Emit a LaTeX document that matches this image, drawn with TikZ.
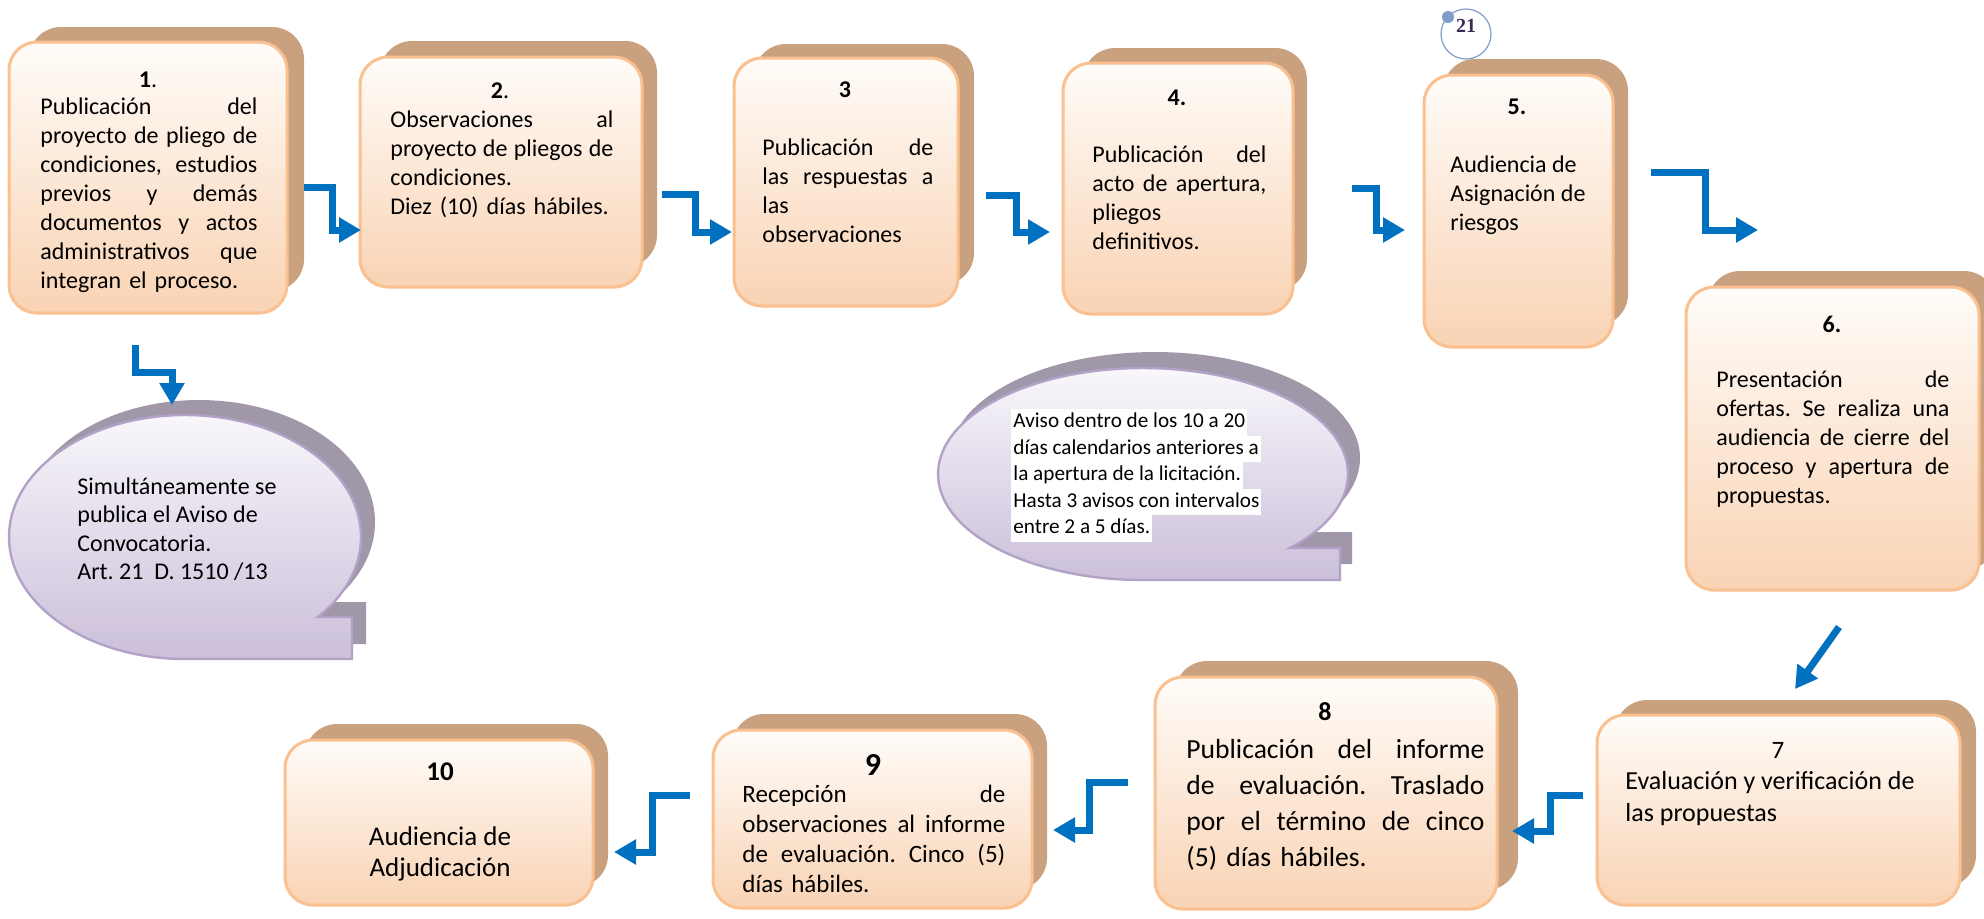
\documentclass[tikz,border=0pt]{standalone}
\usepackage{fontspec}
\setmainfont{Carlito}
\newfontfamily\pagefont{Liberation Serif}
\usetikzlibrary{arrows.meta}
\definecolor{boxtop}{HTML}{FFFCF9}
\definecolor{boxbot}{HTML}{F9D3B4}
\definecolor{boxedge}{HTML}{FAC090}
\definecolor{boxback}{HTML}{C9A17F}
\definecolor{bubtop}{HTML}{FBFAFD}
\definecolor{bubbot}{HTML}{CBBFDA}
\definecolor{bubedge}{HTML}{B3A2C7}
\definecolor{bubback}{HTML}{A097A9}
\definecolor{flowblue}{HTML}{0070C0}
\definecolor{ringblue}{HTML}{7F9CCB}
\definecolor{pagenum}{HTML}{3F2C53}
\newcommand{\jl}[2]{\leavevmode\hbox to #1{\spaceskip=0pt\xspaceskip=0pt #2}\\}
\newcommand{\hl}[1]{\colorbox{white}{\kern1pt\strut #1\kern1pt}}
\setlength{\fboxsep}{0pt}
\frenchspacing
\begin{document}
\begin{tikzpicture}[x=0.5pt, y=0.5pt]
	\tikzset{
		back box/.style={fill=boxback, rounded corners=16pt},
		front box/.style={draw=boxedge, line width=1.5pt, rounded corners=14pt, top color=boxtop, bottom color=boxbot},
		bubble back/.style={fill=bubback},
		bubble/.style={draw=bubedge, line width=1.2pt, top color=bubtop, bottom color=bubbot},
		num/.style={inner sep=0pt, font=\bfseries\fontsize{12}{14}\selectfont},
		body/.style={anchor=north west, inner sep=0pt, align=left, font=\fontsize{12}{14.5}\selectfont},
		flow/.style={draw=flowblue, line width=3.5pt, -{Triangle[length=11pt,width=12pt]}},
	}
	\path[use as bounding box, fill=white] (0,0) rectangle (1984,-918);
	% cajas
	\path[back box] (29,-27) rectangle (304,-291);
	\path[front box] (9,-42) rectangle (287,-313);
	\path[back box] (380,-41) rectangle (657,-267);
	\path[front box] (360,-57) rectangle (642,-287);
	\path[back box] (754,-44) rectangle (974,-285);
	\path[front box] (734,-58) rectangle (958,-306);
	\path[back box] (1083,-48) rectangle (1307,-291);
	\path[front box] (1063,-63) rectangle (1293,-314);
	\path[back box] (1443,-59) rectangle (1628,-326);
	\path[front box] (1424,-75) rectangle (1613,-347);
	\path[back box] (1708,-271) rectangle (1996,-570);
	\path[front box] (1686,-287) rectangle (1979,-590);
	\path[back box] (1615,-700) rectangle (1976,-887);
	\path[front box] (1597,-715) rectangle (1960,-905);
	\path[back box] (1175,-661) rectangle (1518,-890);
	\path[front box] (1155,-677) rectangle (1497,-909);
	\path[back box] (732,-714) rectangle (1047,-890);
	\path[front box] (713,-730) rectangle (1032,-908);
	\path[back box] (305,-724) rectangle (608,-887);
	\path[front box] (285,-740) rectangle (593,-905);
	% globos
	\path[bubble back, shift={(14,15)}] (317.9,-617) arc[start angle=-40.97, end angle=270, x radius=88pt, y radius=61pt] -- (352,-659) -- (352,-617) -- cycle;
	\path[bubble] (317.9,-617) arc[start angle=-40.97, end angle=270, x radius=88pt, y radius=61pt] -- (352,-659) -- (352,-617) -- cycle;
	\path[bubble back, shift={(12,16)}] (1289.8,-548) arc[start angle=-44.27, end angle=270, x radius=102.5pt, y radius=53pt] -- (1340,-580) -- (1340,-548) -- cycle;
	\path[bubble] (1289.8,-548) arc[start angle=-44.27, end angle=270, x radius=102.5pt, y radius=53pt] -- (1340,-580) -- (1340,-548) -- cycle;
	% textos
	\node[num] (n1) at (148,-80) {1\mdseries.};
	\node[body, text width=108.5pt] (t1) at (40,-97) {\jl{108.5pt}{Publicación del}\jl{108.5pt}{proyecto de pliego de}\jl{108.5pt}{condiciones, estudios}\jl{108.5pt}{previos y demás}\jl{108.5pt}{documentos y actos}\jl{108.5pt}{administrativos que}integran el proceso.};
	\node[num] (n2) at (500,-91) {2\mdseries.};
	\node[body, text width=111.5pt] (t2) at (390,-110) {\jl{111.5pt}{Observaciones al}\jl{111.5pt}{proyecto de pliegos de}condiciones.\\Diez (10) días hábiles.};
	\node[num] (n3) at (845,-90) {3};
	\node[body, text width=85.5pt] (t3) at (762,-138) {\jl{85.5pt}{Publicación de}\jl{85.5pt}{las respuestas a}las\\observaciones};
	\node[num] (n4) at (1177,-98) {4.};
	\node[body, text width=87pt] (t4) at (1092,-145) {\jl{87pt}{Publicación del}\jl{87pt}{acto de apertura,}pliegos\\definitivos.};
	\node[num] (n5) at (1517,-107) {5.};
	\node[body] (t5) at (1450,-155) {Audiencia de\\Asignación de\\riesgos};
	\node[num] (n6) at (1832,-324) {6.};
	\node[body, text width=116.5pt] (t6) at (1716,-370) {\jl{116.5pt}{Presentación de}\jl{116.5pt}{ofertas. Se realiza una}\jl{116.5pt}{audiencia de cierre del}\jl{116.5pt}{proceso y apertura de}propuestas.};
	\node[num, font=\fontsize{12.5}{14}\selectfont] (n7) at (1778,-750) {7};
	\node[body, font=\fontsize{13}{16}\selectfont] (t7) at (1625,-771) {Evaluación y verificación de\\las propuestas};
	\node[num, font=\bfseries\fontsize{13}{14}\selectfont] (n8) at (1325,-712) {8};
	\node[body, text width=149pt, font=\fontsize{13.8}{18}\selectfont] (t8) at (1186,-739) {\jl{149pt}{Publicación del informe}\jl{149pt}{de evaluación. Traslado}\jl{149pt}{por el término de cinco}(5) días hábiles.};
	\node[num, font=\bfseries\fontsize{16}{18}\selectfont] (n9) at (873,-765) {9};
	\node[body, text width=131.5pt, font=\fontsize{12.5}{15}\selectfont] (t9) at (742,-785) {\jl{131.5pt}{Recepción de}\jl{131.5pt}{observaciones al informe}\jl{131.5pt}{de evaluación. Cinco (5)}días hábiles.};
	\node[num, font=\bfseries\fontsize{13.5}{15}\selectfont] (n10) at (440,-772) {10};
	\node[body, anchor=north, align=center, font=\fontsize{13.5}{15.5}\selectfont] (t10) at (440,-826) {Audiencia de\\Adjudicación};
	\node[body, font=\fontsize{12}{14.25}\selectfont] (g1) at (77,-477) {Simultáneamente se\\publica el Aviso de\\Convocatoria.\\Art. 21\ \ D. 1510 /13};
	\node[body, font=\fontsize{10.6}{13.25}\selectfont] (g2) at (1011,-409) {\hl{Aviso dentro de los 10 a 20}\\\hl{días calendarios anteriores a}\\\hl{la apertura de la licitación.}\\\hl{Hasta 3 avisos con intervalos}\\\hl{entre 2 a 5 días.}};
	% flechas
	\coordinate (a1s) at (304,-187); \coordinate (a1m) at (332,-230); \coordinate (a1e) at (361,-230);
	\coordinate (a2s) at (662,-194); \coordinate (a2m) at (695,-232); \coordinate (a2e) at (732,-232);
	\coordinate (a3s) at (986,-195); \coordinate (a3m) at (1016,-232); \coordinate (a3e) at (1050,-232);
	\coordinate (a4s) at (1352,-188); \coordinate (a4m) at (1376,-230); \coordinate (a4e) at (1405,-230);
	\coordinate (a5s) at (1651,-172); \coordinate (a5m) at (1705,-230); \coordinate (a5e) at (1758,-230);
	\coordinate (a6s) at (1839,-627); \coordinate (a6e) at (1795,-689);
	\coordinate (a7s) at (1583,-795); \coordinate (a7m) at (1550,-831); \coordinate (a7e) at (1512,-831);
	\coordinate (a8s) at (1128,-782); \coordinate (a8m) at (1089,-830); \coordinate (a8e) at (1053,-830);
	\coordinate (a9s) at (690,-795); \coordinate (a9m) at (652,-852); \coordinate (a9e) at (614,-852);
	\coordinate (ads) at (135,-345); \coordinate (adm) at (172,-372); \coordinate (ade) at (172,-405);
	\draw[flow] (a1s) -| (a1m) -- (a1e);
	\draw[flow] (a2s) -| (a2m) -- (a2e);
	\draw[flow] (a3s) -| (a3m) -- (a3e);
	\draw[flow] (a4s) -| (a4m) -- (a4e);
	\draw[flow] (a5s) -| (a5m) -- (a5e);
	\draw[flow] (a6s) -- (a6e);
	\draw[flow] (a7s) -| (a7m) -- (a7e);
	\draw[flow] (a8s) -| (a8m) -- (a8e);
	\draw[flow] (a9s) -| (a9m) -- (a9e);
	\draw[flow] (ads) |- (adm) -- (ade);
	% pagina
	\node[circle, draw=ringblue, line width=0.6pt, minimum size=25pt, inner sep=0pt] (pg) at (1466,-34) {};
	\fill[ringblue] (1448,-17) circle (3pt);
	\node[inner sep=0pt, text=pagenum, font=\pagefont\bfseries\fontsize{10}{12}\selectfont] (pgn) at (1466,-26) {21};
\end{tikzpicture}
\end{document}
